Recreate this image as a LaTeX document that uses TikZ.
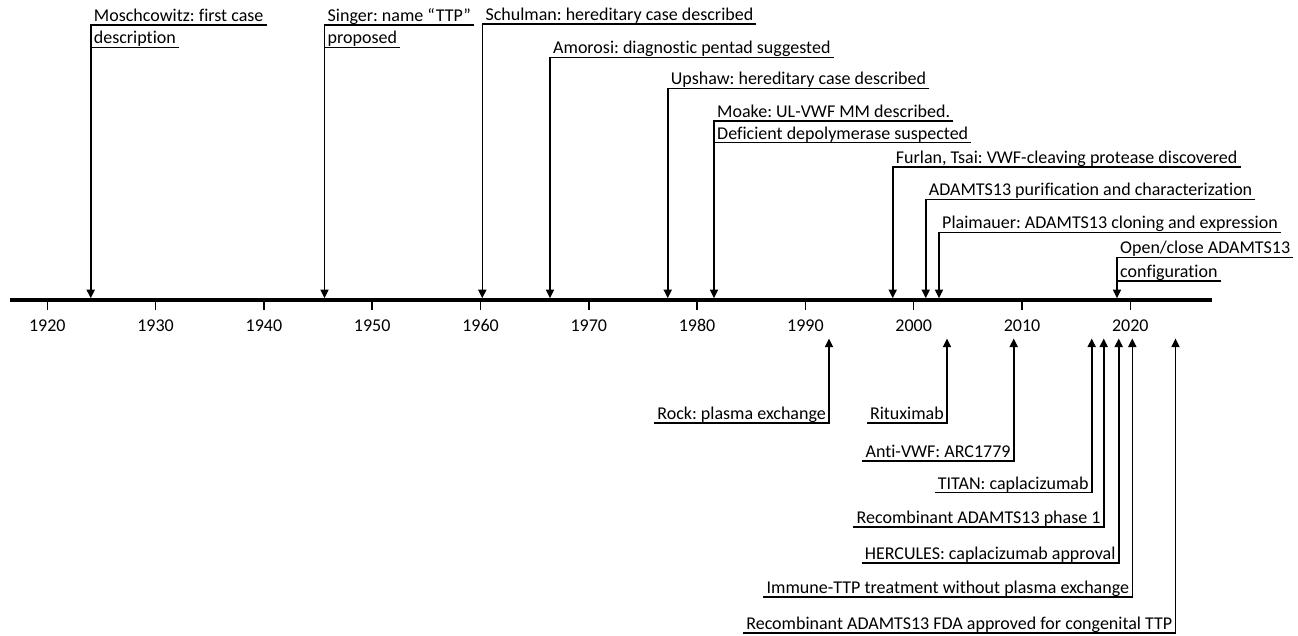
\documentclass[tikz,border=0pt]{standalone}
\usepackage{fontspec}
\setmainfont{Carlito}[Ligatures=NoCommon]
\usepackage{tikz}
\usetikzlibrary{arrows.meta}
\frenchspacing

\tikzset{
    label/.style={inner xsep=3pt, inner ysep=0pt, text height=12.5pt, text depth=3.3pt},
    above label/.style={label, anchor=south west},
    below label/.style={label, anchor=south east},
    uline/.style={line width=1.6pt},
    pin/.style={line width=1.6pt, -{Triangle[length=8.5pt,width=8pt]}}
}

\begin{document}
\begin{tikzpicture}[x=1pt, y=-1pt, font=\fontsize{18}{22}\selectfont]
    \useasboundingbox (0,0) rectangle (1298,635);
    \draw[line width=3.5pt] (10,300) coordinate (axisL) -- (1212,300) coordinate (axisR);
    \coordinate (top) at (0,298.2);
    \coordinate (bot) at (0,338.5);
    \foreach \yr in {1920,1930,...,2020}
        \draw[line width=1.5pt] ({47.3+10.83*(\yr-1920)},300) -- ++(0,10) node[pos=1, anchor=base, inner sep=0pt, yshift=-21pt] (y\yr) {\yr};

    % events above the axis
    \node[above label] (mosch) at (90.7,25) {Moschcowitz: first case};
    \node[above label] (mosch2) at (90.7,47.3) {description};
    \node[above label] (singer) at (324.5,25) {Singer: name “TTP”};
    \node[above label] (singer2) at (324.5,47.3) {proposed};
    \node[above label] (schulman) at (482.3,24) {Schulman: hereditary case described};
    \node[above label] (amorosi) at (550,57.3) {Amorosi: diagnostic pentad suggested};
    \node[above label] (upshaw) at (667.7,88.3) {Upshaw: hereditary case described};
    \node[above label] (moake) at (714,120.7) {Moake: UL-VWF MM described.};
    \node[above label] (moake2) at (714,142.5) {Deficient depolymerase suspected};
    \node[above label] (furlan) at (892.7,166.7) {Furlan, Tsai: VWF-cleaving protease discovered};
    \node[above label] (purif) at (925.7,199.3) {ADAMTS13 purification and characterization};
    \node[above label] (plaim) at (939,232.3) {Plaimauer: ADAMTS13 cloning and expression};
    \node[above label] (openclose) at (1117,257.3) {Open/close ADAMTS13};
    \node[above label] (openclose2) at (1117,280.7) {configuration};

    \foreach \n in {mosch,singer,schulman,amorosi,upshaw,moake,furlan,purif,plaim,openclose}
        \draw[pin] (\n.south east) -- (\n.south west) -- (\n.south west |- top);
    \foreach \n in {mosch2,singer2,moake2,openclose2}
        \draw[uline] (\n.south west) -- (\n.south east);

    % events below the axis
    \node[below label] (rock) at (829,423) {Rock: plasma exchange};
    \node[below label] (ritux) at (947,423) {Rituximab};
    \node[below label] (antivwf) at (1013.7,461) {Anti-VWF: ARC1779};
    \node[below label] (titan) at (1091.7,492.5) {TITAN: caplacizumab};
    \node[below label] (recphase) at (1103.7,527) {Recombinant ADAMTS13 phase 1};
    \node[below label] (hercules) at (1118.7,563) {HERCULES: caplacizumab approval};
    \node[below label] (immune) at (1132.3,597) {Immune-TTP treatment without plasma exchange};
    \node[below label] (fda) at (1175.5,632.7) {Recombinant ADAMTS13 FDA approved for congenital TTP};

    \foreach \n in {rock,ritux,antivwf,titan,recphase,hercules,immune,fda}
        \draw[pin] (\n.south west) -- (\n.south east) -- (\n.south east |- bot);
\end{tikzpicture}
\end{document}
